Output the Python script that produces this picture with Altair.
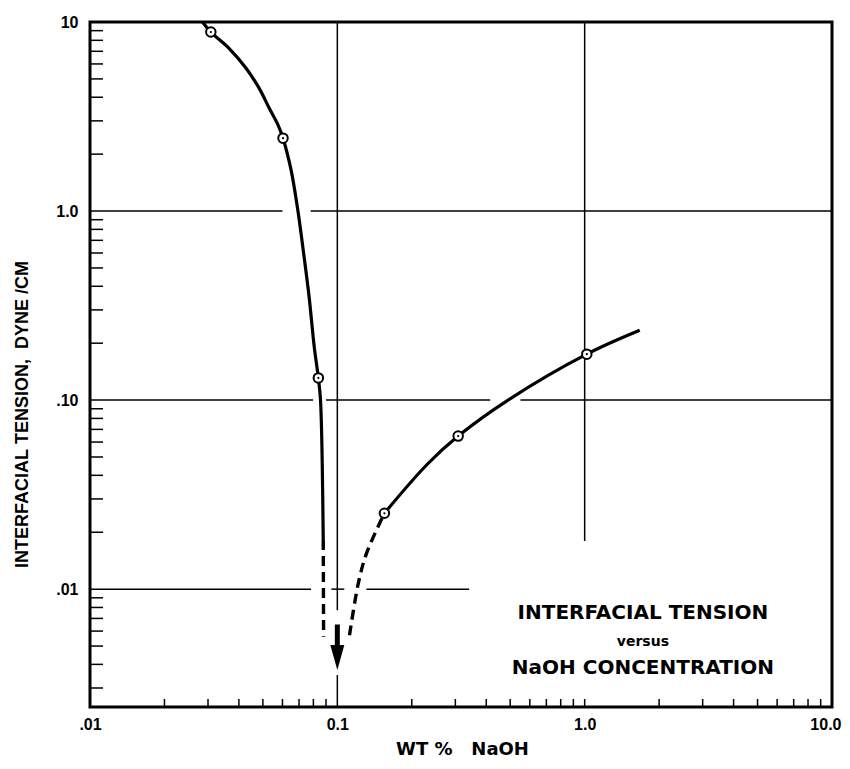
import altair as alt
import pandas as pd

# ---- data ----
# left branch (solid part), x = wt % NaOH, y = interfacial tension dyne/cm
left_solid_x = [0.0285, 0.0308, 0.0364, 0.0427, 0.0482, 0.0530, 0.0576, 0.0603, 0.0650,
                0.0693, 0.0734, 0.0769, 0.0807, 0.0838, 0.0855, 0.0877]
left_solid_y = [10.0, 8.85, 7.28, 5.71, 4.48, 3.51, 2.85, 2.43, 1.65,
                1.0, 0.571, 0.351, 0.190, 0.131, 0.10, 0.0182]
# left branch dashed continuation
left_dash_x = [0.0877, 0.0880]
left_dash_y = [0.0182, 0.0056]
# right branch dashed part
right_dash_x = [0.112, 0.1216, 0.1313, 0.155]
right_dash_y = [0.0057, 0.01076, 0.0155, 0.0252]
# right branch solid part
right_solid_x = [0.155, 0.230, 0.308, 0.49, 1.02, 1.67]
right_solid_y = [0.0252, 0.0455, 0.0645, 0.10, 0.175, 0.234]
# measured points
pts_x = [0.0308, 0.0603, 0.0838, 0.155, 0.308, 1.02]
pts_y = [8.85, 2.43, 0.131, 0.0252, 0.0645, 0.175]

# grid segments (horizontal: y, x from, x to)
hgrid_y = [1.0, 1.0, 0.1, 0.1, 0.1, 0.01, 0.01, 0.01]
hgrid_x1 = [0.01, 0.078, 0.01, 0.090, 0.55, 0.01, 0.0946, 0.131]
hgrid_x2 = [0.060, 10.0, 0.0798, 0.415, 10.0, 0.0783, 0.1067, 0.341]
# vertical: x, y from, y to
vgrid_x = [0.1, 0.1, 1.0]
vgrid_y1 = [0.00774, 0.00238, 0.018]
vgrid_y2 = [10.0, 0.00351, 10.0]

# minor tick values
y_ticks = [0.003, 0.004, 0.005, 0.006, 0.007, 0.008, 0.009,
           0.02, 0.03, 0.04, 0.05, 0.06, 0.07, 0.08, 0.09,
           0.2, 0.3, 0.4, 0.5, 0.6, 0.7, 0.8, 0.9,
           2, 3, 4, 5, 6, 7, 8, 9]
x_ticks = [0.02, 0.03, 0.04, 0.05, 0.06, 0.07, 0.08, 0.09,
           0.2, 0.3, 0.4, 0.5, 0.6, 0.7, 0.8, 0.9, 1.0,
           2, 3, 4, 5, 6, 7, 8, 9]

# arrow at 0.1
arrow_x = [0.1]
arrow_shaft_top = [0.0065]
arrow_shaft_bot = [0.00475]
arrow_head_y = [0.00435]

# annotation
note_lines = ["INTERFACIAL TENSION", "versus", "NaOH CONCENTRATION"]
note_x = [1.72, 1.72, 1.72]
note_y = [0.00746, 0.00525, 0.00382]
note_size = [20, 14, 20]

W, H = 742, 685
NB = "\u00a0"

xs = alt.Scale(type="log", domain=[0.01, 10], nice=False)
ys = alt.Scale(type="log", domain=[0.00238, 10], nice=False)

xaxis = alt.Axis(
    values=[0.01, 0.1, 1, 10],
    labelExpr="datum.value < 0.05 ? '.01' : datum.value < 0.5 ? '0.1' : datum.value < 5 ? '1.0' : '10.0'",
    labelAlign={"condition": {"test": "datum.value > 5", "value": "right"}, "value": "center"},
    labelOffset={"condition": {"test": "datum.value > 5", "value": 9}, "value": 0},
    domain=False, ticks=False, grid=False, labelFlush=False, labelOverlap=False,
    labelFont="Liberation Sans", labelFontSize=16, labelFontWeight="bold",
    labelColor="black", labelPadding=9,
    title="WT" + NB + "%" + NB * 3 + "NaOH", titleFont="DejaVu Sans", titleFontSize=18,
    titleFontWeight="bold", titleColor="black", titleX=372, titleY=42,
    titleBaseline="middle", titleAlign="center",
)
yaxis = alt.Axis(
    values=[0.01, 0.1, 1, 10],
    labelExpr="datum.value > 5 ? '10' : datum.value > 0.5 ? '1.0' : datum.value > 0.05 ? '.10' : '.01'",
    domain=False, ticks=False, grid=False, labelFlush=False, labelOverlap=False,
    labelFont="Liberation Sans", labelFontSize=16, labelFontWeight="bold",
    labelColor="black", labelPadding=12,
    title="INTERFACIAL" + NB + "TENSION," + NB * 2 + "DYNE" + NB + "/CM", titleFont="Liberation Sans",
    titleFontSize=18, titleFontWeight="bold", titleColor="black", titleX=-68, titleY=392,
    titleBaseline="middle", titleAlign="center", titleAngle=270,
)

X = alt.X("x:Q", scale=xs, axis=xaxis)
Y = alt.Y("y:Q", scale=ys, axis=yaxis)

hgrid = pd.DataFrame({"y": hgrid_y, "x": hgrid_x1, "x2": hgrid_x2})
vgrid = pd.DataFrame({"x": vgrid_x, "y": vgrid_y1, "y2": vgrid_y2})

g_h = alt.Chart(hgrid).mark_rule(color="black", strokeWidth=1.5).encode(
    x=X, x2="x2:Q", y=Y)
g_v = alt.Chart(vgrid).mark_rule(color="black", strokeWidth=1.5).encode(
    x=X, y=Y, y2="y2:Q")

yt = alt.Chart(pd.DataFrame({"y": y_ticks})).mark_rule(color="black", strokeWidth=1.5).encode(
    y=Y, x=alt.value(0), x2=alt.value(13))
xt = alt.Chart(pd.DataFrame({"x": x_ticks})).mark_rule(color="black", strokeWidth=1.5).encode(
    x=X, y=alt.value(H), y2=alt.value(H - 8))

solid = pd.concat([
    pd.DataFrame({"x": left_solid_x, "y": left_solid_y, "seg": "L"}),
    pd.DataFrame({"x": right_solid_x, "y": right_solid_y, "seg": "R"}),
])
dashed = pd.concat([
    pd.DataFrame({"x": left_dash_x, "y": left_dash_y, "seg": "L"}),
    pd.DataFrame({"x": right_dash_x, "y": right_dash_y, "seg": "R"}),
])

l_solid = alt.Chart(solid).mark_line(color="black", strokeWidth=3.2, interpolate="catmull-rom").encode(
    x=X, y=Y, detail="seg:N", order="x:Q")
l_dash = alt.Chart(dashed).mark_line(color="black", strokeWidth=3.4, interpolate="catmull-rom",
                                     strokeDash=[10, 6]).encode(
    x=X, y=Y, detail="seg:N", order="x:Q")

pts = pd.DataFrame({"x": pts_x, "y": pts_y})
p_ring = alt.Chart(pts).mark_point(shape="circle", filled=True, fill="white", stroke="black",
                                   strokeWidth=2, size=90, opacity=1).encode(x=X, y=Y)
p_dot = alt.Chart(pts).mark_point(shape="circle", filled=True, color="black", size=5,
                                  opacity=1).encode(x=X, y=Y)

arrow = pd.DataFrame({"x": arrow_x, "y": arrow_shaft_top, "y2": arrow_shaft_bot})
a_shaft = alt.Chart(arrow).mark_rule(color="black", strokeWidth=5).encode(x=X, y=Y, y2="y2:Q")
a_head = alt.Chart(pd.DataFrame({"x": arrow_x, "y": arrow_head_y})).mark_point(
    shape="M-0.56,-1L0.56,-1L0,1Z", filled=True, color="black", size=625, opacity=1,
    strokeWidth=0).encode(x=X, y=Y)

notes = pd.DataFrame({"x": note_x, "y": note_y, "t": note_lines, "s": note_size})
txt = alt.Chart(notes).mark_text(font="DejaVu Sans", fontWeight="bold", color="black",
                                 align="center", baseline="middle").encode(
    x=X, y=Y, text="t:N", size=alt.Size("s:Q", scale=None, legend=None))

chart = alt.layer(g_h, g_v, yt, xt, l_solid, l_dash, p_ring, p_dot, a_shaft, a_head, txt).properties(
    width=W, height=H,
    autosize=alt.AutoSizeParams(type="none"),
    padding={"left": 82, "top": 14, "right": 10, "bottom": 54},
).configure(background="white").configure_view(stroke="black", strokeWidth=3)

chart.save("out.html", embed_options={"renderer": "svg", "actions": False})
